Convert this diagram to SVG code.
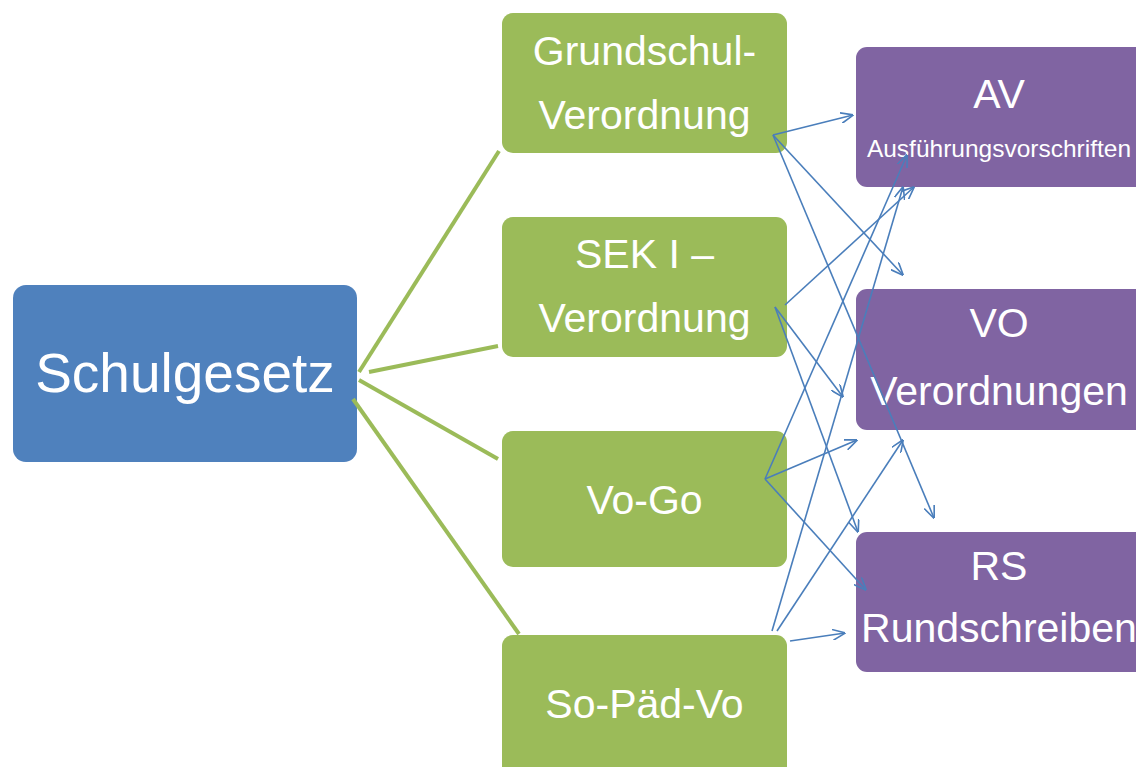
<svg xmlns="http://www.w3.org/2000/svg" width="1136" height="767" viewBox="0 0 1136 767">
  <defs>
    <style>
      .blue { fill: #4f81bd; }
      .green { fill: #9bbb59; }
      .purple { fill: #8064a2; }
      text { font-family: "Liberation Sans", Arial, sans-serif; fill: #ffffff; text-anchor: middle; }
      .big { font-size: 41px; }
      .small { font-size: 24.5px; }
      .title { font-size: 55px; }
      .gline { stroke: #9bbb59; stroke-width: 4; fill: none; }
      .arrow { stroke: #4a7ebb; stroke-width: 1.6; fill: none; marker-end: url(#open); }
    </style>
    <marker id="open" viewBox="0 0 12 10" refX="11.5" refY="5" markerWidth="13" markerHeight="11" markerUnits="userSpaceOnUse" orient="auto">
      <path d="M0,0 L12,5 L0,10" fill="none" stroke="#4a7ebb" stroke-width="1.5"/>
    </marker>
  </defs>

  <rect width="1136" height="767" fill="#ffffff"/>

  <g id="schulgesetz">
    <rect class="blue" x="13" y="285" width="344" height="177" rx="13"/>
    <text class="title" x="185" y="392">Schulgesetz</text>
  </g>

  <g id="grundschul">
    <rect class="green" x="502" y="13" width="285" height="140" rx="11"/>
    <text class="big" x="644.5" y="65">Grundschul-</text>
    <text class="big" x="644.5" y="129">Verordnung</text>
  </g>

  <g id="sek1">
    <rect class="green" x="502" y="217" width="285" height="140" rx="11"/>
    <text class="big" x="644.5" y="268">SEK I –</text>
    <text class="big" x="644.5" y="332">Verordnung</text>
  </g>

  <g id="vogo">
    <rect class="green" x="502" y="431" width="285" height="136" rx="11"/>
    <text class="big" x="644.5" y="514">Vo-Go</text>
  </g>

  <g id="sopaedvo">
    <rect class="green" x="502" y="635" width="285" height="145" rx="11"/>
    <text class="big" x="644.5" y="718">So-Päd-Vo</text>
  </g>

  <g id="av">
    <rect class="purple" x="856" y="47" width="290" height="140" rx="11"/>
    <text class="big" x="999" y="108">AV</text>
    <text class="small" x="999" y="157">Ausführungsvorschriften</text>
  </g>

  <g id="vo">
    <rect class="purple" x="856" y="289" width="290" height="141" rx="11"/>
    <text class="big" x="999" y="337">VO</text>
    <text class="big" x="999" y="405">Verordnungen</text>
  </g>

  <g id="rs">
    <rect class="purple" x="856" y="532" width="290" height="140" rx="11"/>
    <text class="big" x="999" y="580">RS</text>
    <text class="big" x="999" y="642">Rundschreiben</text>
  </g>

  <g id="connectors">
    <line class="gline" x1="359" y1="372" x2="499" y2="151"/>
    <line class="gline" x1="369" y1="372" x2="498" y2="346"/>
    <line class="gline" x1="359" y1="380" x2="498" y2="459"/>
    <line class="gline" x1="353" y1="399" x2="519" y2="634"/>

    <line class="arrow" x1="773" y1="135" x2="853" y2="115"/>
    <line class="arrow" x1="773" y1="135" x2="903" y2="275"/>
    <line class="arrow" x1="773" y1="135" x2="934" y2="518"/>

    <line class="arrow" x1="785" y1="305" x2="914" y2="187"/>
    <line class="arrow" x1="775" y1="307" x2="843" y2="397"/>
    <line class="arrow" x1="775" y1="307" x2="858" y2="532"/>

    <line class="arrow" x1="765" y1="479" x2="907" y2="155"/>
    <line class="arrow" x1="765" y1="479" x2="857" y2="440"/>
    <line class="arrow" x1="765" y1="479" x2="866" y2="590"/>

    <line class="arrow" x1="772" y1="631" x2="903" y2="187"/>
    <line class="arrow" x1="777" y1="631" x2="903" y2="440"/>
    <line class="arrow" x1="790" y1="641" x2="845" y2="633"/>
  </g>
</svg>
